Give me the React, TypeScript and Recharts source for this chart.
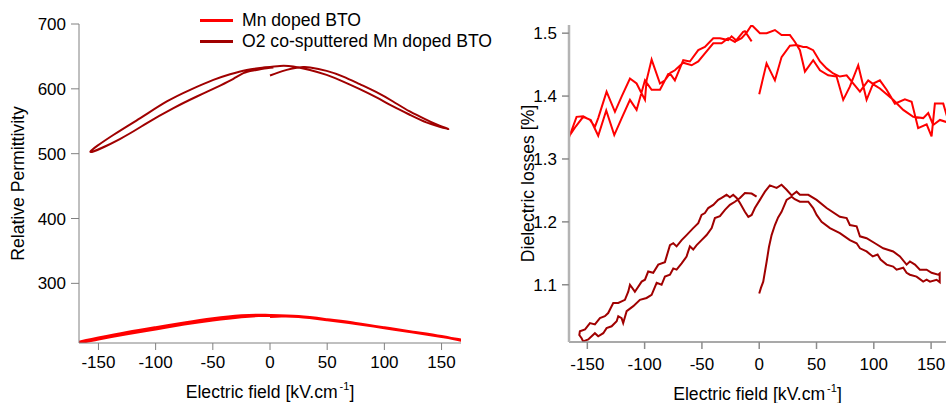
import React from "react";
import { LineChart, Line, XAxis, YAxis, Legend, Label } from "recharts";

type Pt = [number, number];

// tick values
const fieldTicks = [-150, -100, -50, 0, 50, 100, 150];
const permTicks = [300, 400, 500, 600, 700];
const lossTicks = [1.1, 1.2, 1.3, 1.4, 1.5];

const seriesNames = ["Mn doped BTO", "O2 co-sputtered Mn doped BTO"];

// relative permittivity, Mn doped BTO : [E (kV/cm), eps]
const permMnVirgin: Pt[] = [[0, 248.5], [10, 249.2], [25, 248.5], [50, 243.5], [75, 237.8], [100, 231.3], [125, 224.5], [150, 217.8], [167, 213]];
const permMnDown: Pt[] = [[166, 212.4], [150, 218.2], [125, 225], [100, 231.8], [75, 238.5], [50, 244.2], [25, 249], [0, 250.8], [-10, 251.2], [-25, 250.3], [-50, 245.7], [-75, 239.2], [-100, 232], [-125, 224.5], [-150, 216], [-167, 209.5]];
const permMnUp: Pt[] = [[-166, 208.4], [-150, 213.8], [-125, 221.8], [-100, 229.2], [-75, 236.8], [-50, 243.2], [-25, 248.2], [-10, 250], [0, 250.5]];

// relative permittivity, O2 co-sputtered
const permO2Virgin: Pt[] = [[0, 620.5], [7, 625], [14.6, 629.2], [22, 632.2], [29, 633.6], [35, 633], [49.5, 627.7], [64, 618.9], [78.5, 607.2], [93.1, 594.9], [107.6, 580.5], [122.2, 565.1], [136.7, 552.3], [148.3, 543.1], [156, 538]];
const permO2Down: Pt[] = [[148.3, 541.5], [136.7, 548.2], [122.2, 560], [107.6, 572.8], [93.1, 586.7], [78.5, 599.5], [64, 611.2], [49.5, 621.5], [34.9, 629.2], [20.3, 634.5], [8.7, 635.4], [-5.8, 632.8], [-20.3, 629.2], [-34.9, 622.6], [-49.5, 613.8], [-69.8, 598.5], [-90.2, 580.5], [-113.4, 554.9], [-136.7, 529.2], [-157, 502.6]];
const permO2Up: Pt[] = [[-130.9, 523], [-107.6, 547.2], [-84.4, 570.3], [-64, 588.2], [-43.6, 605.1], [-32, 615.4], [-23.3, 624.1], [-14.6, 628.2], [-2.9, 631.8], [3, 633]];

// dielectric losses (%), Mn doped BTO
const lossMnVirgin: Pt[] = [[0, 1.403], [6.4, 1.452], [13.7, 1.425], [19.5, 1.462], [26.8, 1.48], [32.6, 1.481], [38.4, 1.478], [41.4, 1.478], [47.1, 1.473], [53, 1.455], [58.8, 1.444], [64.6, 1.436], [70.4, 1.431], [76.3, 1.433], [82, 1.42], [87.9, 1.407], [95.1, 1.425], [101, 1.417], [105.3, 1.412], [116.9, 1.394], [125.7, 1.378], [134.4, 1.367], [143.1, 1.365], [147.5, 1.373], [151.8, 1.354], [157.7, 1.362], [162.9, 1.359], [166, 1.36]];
const lossMnDown: Pt[] = [[166, 1.375], [163.5, 1.37], [160.6, 1.388], [153.3, 1.388], [150.4, 1.336], [146.1, 1.355], [138.7, 1.349], [133, 1.391], [127.1, 1.395], [118.4, 1.388], [111.2, 1.41], [105.3, 1.425], [99.5, 1.42], [93.7, 1.394], [86.4, 1.449], [79.1, 1.415], [73.3, 1.394], [67.5, 1.431], [60.2, 1.433], [53, 1.441], [47.1, 1.457], [39.9, 1.439], [35.5, 1.473], [31.2, 1.486], [26.8, 1.497], [19.5, 1.497], [13.7, 1.505], [6.5, 1.5], [0.6, 1.5], [-6.6, 1.513], [-11, 1.501], [-15.4, 1.492], [-19.7, 1.488], [-24.1, 1.495], [-27.1, 1.489], [-34.3, 1.492], [-40.1, 1.492], [-47.4, 1.478], [-53.2, 1.473], [-60.5, 1.455], [-66.3, 1.457], [-73.6, 1.425], [-77.9, 1.436], [-82.3, 1.425], [-86.6, 1.42], [-93.9, 1.458], [-98.3, 1.425], [-99.7, 1.394], [-102.6, 1.404], [-107, 1.42], [-112.8, 1.428], [-120.1, 1.399], [-125.9, 1.375], [-133.2, 1.407], [-140.5, 1.365], [-143.4, 1.351], [-147.7, 1.362], [-153.6, 1.368], [-159.4, 1.367], [-166, 1.334], [-168, 1.33]];
const lossMnUp: Pt[] = [[-166, 1.336], [-160, 1.352], [-153.6, 1.367], [-147, 1.362], [-140.5, 1.337], [-133.5, 1.377], [-126.5, 1.338], [-120, 1.365], [-112.8, 1.394], [-107, 1.378], [-99.7, 1.425], [-93.9, 1.41], [-86.6, 1.41], [-79.4, 1.435], [-73.6, 1.441], [-66.3, 1.453], [-59, 1.449], [-53.2, 1.455], [-47.4, 1.468], [-40.1, 1.484], [-32.8, 1.484], [-27.1, 1.492], [-21.2, 1.486], [-14, 1.502], [-12.5, 1.503], [-6.6, 1.487]];

// dielectric losses (%), O2 co-sputtered
const lossO2Virgin: Pt[] = [[0, 1.086], [1.5, 1.095], [3.5, 1.105], [6.5, 1.137], [8.5, 1.16], [10.8, 1.179], [13.7, 1.195], [16.5, 1.207], [19.5, 1.216], [23.9, 1.235], [28.3, 1.24], [31, 1.236], [35.5, 1.232], [42.8, 1.232], [47.1, 1.222], [50.1, 1.211], [54.4, 1.2], [61.7, 1.19], [70.4, 1.182], [79.1, 1.171], [85, 1.166], [87.9, 1.158], [93.7, 1.153], [99.1, 1.145], [103.3, 1.148], [105.9, 1.14], [111.2, 1.132], [116.9, 1.129], [119.9, 1.124], [125.7, 1.127], [128.6, 1.119], [131.5, 1.116], [137.3, 1.113], [143.1, 1.105], [146.1, 1.108], [149, 1.105], [154.8, 1.108], [157.5, 1.104]];
const lossO2Down: Pt[] = [[157.5, 1.118], [156.2, 1.116], [150.4, 1.119], [146.1, 1.124], [140.2, 1.124], [135.9, 1.132], [131.5, 1.137], [128.6, 1.132], [122.8, 1.145], [116.9, 1.153], [108.2, 1.158], [101, 1.166], [93.7, 1.174], [87.9, 1.177], [85, 1.193], [79.1, 1.195], [76.3, 1.206], [70.4, 1.208], [58.8, 1.222], [50.1, 1.235], [42.8, 1.243], [35.5, 1.243], [32.6, 1.248], [28.3, 1.242], [23.9, 1.251], [19.5, 1.259], [15.2, 1.254], [9.3, 1.258], [5, 1.248], [0.6, 1.235], [-3.8, 1.222], [-6.6, 1.211], [-9.5, 1.208], [-12.5, 1.216], [-16.8, 1.23], [-19.7, 1.238], [-22.7, 1.243], [-25.6, 1.239], [-28.5, 1.243], [-32.8, 1.238], [-35.8, 1.235], [-40.1, 1.227], [-44.5, 1.222], [-47.4, 1.214], [-50.3, 1.211], [-53.2, 1.198], [-57.6, 1.19], [-63.4, 1.179], [-67.7, 1.171], [-72.1, 1.161], [-75, 1.166], [-77.9, 1.163], [-82.3, 1.136], [-88.1, 1.132], [-92.5, 1.119], [-96.9, 1.121], [-99.7, 1.108], [-102.6, 1.105], [-108.5, 1.089], [-112.8, 1.1], [-114.3, 1.089], [-117.2, 1.076], [-123, 1.071], [-127.4, 1.071], [-131.8, 1.055], [-134.7, 1.05], [-139, 1.047], [-143.4, 1.037], [-147.7, 1.039], [-152, 1.029], [-156.5, 1.026], [-157, 1.02]];
const lossO2Up: Pt[] = [[-155, 1.015], [-153.6, 1.01], [-149.2, 1.013], [-143.4, 1.023], [-140.5, 1.018], [-136.1, 1.023], [-133.2, 1.031], [-128.8, 1.034], [-124.4, 1.042], [-123, 1.05], [-120.1, 1.047], [-118.7, 1.039], [-115.7, 1.058], [-109.9, 1.066], [-104.1, 1.076], [-98.3, 1.079], [-93.9, 1.084], [-89.5, 1.103], [-85.2, 1.1], [-82.3, 1.113], [-77.9, 1.116], [-75, 1.126], [-72.1, 1.124], [-67.7, 1.134], [-63.4, 1.145], [-60.5, 1.161], [-57.6, 1.156], [-54.6, 1.163], [-50.3, 1.171], [-45.9, 1.179], [-41.5, 1.19], [-38.7, 1.206], [-34.3, 1.209], [-29.9, 1.219], [-25.6, 1.227], [-21.2, 1.232], [-16.8, 1.238], [-12.5, 1.246], [-6.6, 1.245], [-2.3, 1.24]];

const RED = "#ff0000";
const DARK_RED = "#a00000";
const FONT = "'Liberation Sans', Arial, sans-serif";
const TICK_SIZE_PX = 17;
const LABEL_SIZE_PX = 17.6;

const toPoints = (...sweeps: Pt[][]) => sweeps.flat().map(([x, y]) => ({ x, y }));

const tickStyle = { fill: "#000", fontSize: TICK_SIZE_PX, fontFamily: FONT };

function fieldLabel(baseline: number) {
  return (props: any) => {
    const { x, y, width } = props.viewBox;
    return (
      <text x={x + width / 2} y={y + baseline} textAnchor="middle" fill="#000" fontSize={LABEL_SIZE_PX} fontFamily={FONT}>
        Electric field [kV.cm
        <tspan dx={2} dy={-8} fontSize={11}>-1</tspan>
        <tspan dy={8}>]</tspan>
      </text>
    );
  };
}

function sideLabel(text: string, baseline: number) {
  return (props: any) => {
    const { x, y, height } = props.viewBox;
    const cx = x + baseline;
    const cy = y + height / 2;
    return (
      <text x={cx} y={cy} transform={`rotate(-90 ${cx} ${cy})`} textAnchor="middle" fill="#000" fontSize={LABEL_SIZE_PX} fontFamily={FONT}>
        {text}
      </text>
    );
  };
}

function SeriesLegend({ payload }: any) {
  return (
    <div style={{ fontFamily: FONT, fontSize: LABEL_SIZE_PX, color: "#000", whiteSpace: "nowrap" }}>
      {(payload || []).map((entry: any) => (
        <div key={entry.value} style={{ display: "flex", alignItems: "center", height: 20.5 }}>
          <span style={{ display: "inline-block", width: 33, borderTop: `3px solid ${entry.color}`, marginRight: 9 }} />
          <span>{entry.value}</span>
        </div>
      ))}
    </div>
  );
}

export default function App() {
  return (
    <div style={{ position: "absolute", left: 0, top: 0, width: 946, height: 403, background: "#fff" }}>
      <div style={{ position: "absolute", left: 0, top: 0 }}>
        <LineChart width={470} height={403} margin={{ top: 24, right: 9, bottom: 0, left: 0 }}>
          <XAxis
            type="number"
            dataKey="x"
            domain={[-167, 167]}
            ticks={fieldTicks}
            allowDataOverflow
            height={60}
            tickSize={7}
            tickMargin={6}
            tick={tickStyle}
            axisLine={{ stroke: "#808080" }}
            tickLine={{ stroke: "#808080" }}
          >
            <Label content={fieldLabel(55)} />
          </XAxis>
          <YAxis
            type="number"
            domain={[208, 700]}
            ticks={permTicks}
            allowDataOverflow
            width={79}
            tickSize={8}
            tickMargin={5}
            tick={tickStyle}
            axisLine={{ stroke: "#808080" }}
            tickLine={{ stroke: "#808080" }}
          >
            <Label content={sideLabel("Relative Permittivity", 24)} />
          </YAxis>
          <Legend
            layout="vertical"
            align="center"
            verticalAlign="middle"
            content={<SeriesLegend />}
            wrapperStyle={{ left: 200, top: 10.5, width: "auto" }}
          />
          <Line
            data={toPoints(permMnVirgin, permMnDown, permMnUp)}
            dataKey="y"
            name={seriesNames[0]}
            stroke={RED}
            strokeWidth={2.6}
            type="natural"
            dot={false}
            isAnimationActive={false}
          />
          <Line
            data={toPoints(permO2Virgin, permO2Down, permO2Up)}
            dataKey="y"
            name={seriesNames[1]}
            stroke={DARK_RED}
            strokeWidth={2}
            type="natural"
            dot={false}
            isAnimationActive={false}
          />
        </LineChart>
      </div>
      <div style={{ position: "absolute", left: 470, top: 0 }}>
        <LineChart width={476} height={403} margin={{ top: 25, right: 0, bottom: 0, left: 0 }}>
          <XAxis
            type="number"
            dataKey="x"
            domain={[-166, 163]}
            ticks={fieldTicks}
            allowDataOverflow
            height={61}
            tickSize={7}
            tickMargin={9}
            tick={tickStyle}
            axisLine={{ stroke: "#8c8c8c", strokeWidth: 1.5 }}
            tickLine={{ stroke: "#8c8c8c", strokeWidth: 1.5 }}
          >
            <Label content={fieldLabel(58)} />
          </XAxis>
          <YAxis
            type="number"
            domain={[1.009, 1.513]}
            ticks={lossTicks}
            allowDataOverflow
            width={99}
            tickSize={7}
            tickMargin={5}
            tick={tickStyle}
            tickFormatter={(v: number) => v.toFixed(1)}
            axisLine={{ stroke: "#b4b4b4", strokeWidth: 2.5 }}
            tickLine={{ stroke: "#8c8c8c", strokeWidth: 1.5 }}
          >
            <Label content={sideLabel("Dielectric losses [%]", 64)} />
          </YAxis>
          <Line
            data={toPoints(lossMnVirgin, lossMnDown, lossMnUp)}
            dataKey="y"
            name={seriesNames[0]}
            stroke={RED}
            strokeWidth={2}
            type="linear"
            dot={false}
            isAnimationActive={false}
          />
          <Line
            data={toPoints(lossO2Virgin, lossO2Down, lossO2Up)}
            dataKey="y"
            name={seriesNames[1]}
            stroke={DARK_RED}
            strokeWidth={2}
            type="linear"
            dot={false}
            isAnimationActive={false}
          />
        </LineChart>
      </div>
    </div>
  );
}
